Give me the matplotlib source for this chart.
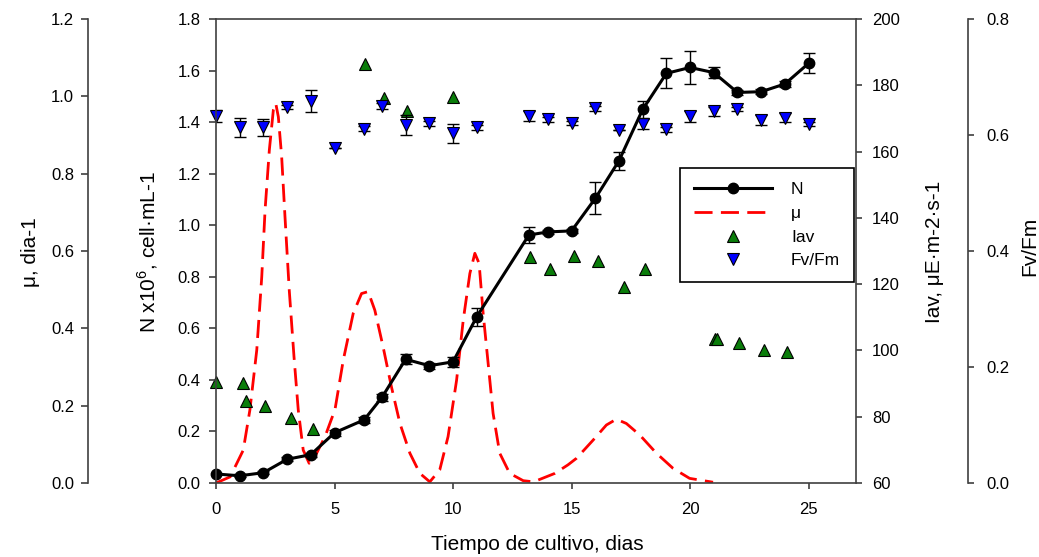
import matplotlib

matplotlib.use("Agg")

import matplotlib.pyplot as plt

plt.rcParams["font.family"] = ["Liberation Sans", "DejaVu Sans"]
plt.rcParams["mathtext.fontset"] = "custom"
plt.rcParams["mathtext.rm"] = "Liberation Sans"

# Cell density N (x10^6 cell/mL) with error bars
days_n = [0, 1, 2, 3, 4, 5, 6.25, 7, 8, 9, 10, 11, 13.2, 14, 15, 16, 17, 18, 19, 20, 21, 22, 23, 24, 25]
n_cells = [0.035, 0.028, 0.04, 0.092, 0.11, 0.195, 0.245, 0.332, 0.48, 0.455, 0.47, 0.645, 0.962,
           0.974, 0.978, 1.104, 1.25, 1.449, 1.589, 1.612, 1.592, 1.515, 1.518, 1.548, 1.628]
n_err = [0.005, 0.005, 0.005, 0.008, 0.008, 0.012, 0.012, 0.012, 0.02, 0.012, 0.02, 0.035, 0.03,
         0.008, 0.008, 0.062, 0.034, 0.034, 0.058, 0.065, 0.022, 0.008, 0.01, 0.01, 0.039]

# Growth rate mu (dia-1)
days_mu = [0, 0.6, 1.15, 1.43, 1.72, 1.93, 2.07, 2.25, 2.42, 2.52, 2.63, 2.77, 2.91, 3.09, 3.29,
           3.47, 3.68, 3.93, 4.17, 4.6, 5.02, 5.37, 5.79, 6.14, 6.42, 6.7, 7.05, 7.4, 7.76, 8.18,
           8.6, 9.02, 9.44, 9.79, 10.15, 10.43, 10.71, 10.92, 11.1, 11.27, 11.48, 11.69, 11.97,
           12.39, 12.96, 13.4, 14.3, 14.85, 15.21, 15.91, 16.47, 16.89, 17.31, 17.88, 18.58,
           19.28, 19.98, 20.97]
mu = [0.0, 0.016, 0.085, 0.189, 0.344, 0.533, 0.706, 0.861, 0.965, 0.982, 0.947, 0.844, 0.689,
      0.499, 0.327, 0.189, 0.085, 0.051, 0.068, 0.12, 0.19, 0.318, 0.439, 0.49, 0.495, 0.447,
      0.352, 0.249, 0.154, 0.077, 0.025, 0.003, 0.034, 0.12, 0.266, 0.421, 0.542, 0.594, 0.568,
      0.439, 0.31, 0.18, 0.077, 0.025, 0.006, 0.003, 0.025, 0.047, 0.064, 0.111, 0.15, 0.165,
      0.154, 0.124, 0.077, 0.038, 0.012, 0.002]

# Average irradiance Iav (uE m-2 s-1)
days_iav = [0, 1.15, 1.25, 2.05, 3.15, 4.1, 6.3, 7.1, 8.05, 10, 13.25, 14.1, 15.1, 16.1, 17.2,
            18.1, 21.05, 21.15, 22.05, 23.1, 24.1]
iav = [90.6, 90.1, 84.8, 83.2, 79.5, 76.2, 186.4, 176.2, 172.3, 176.4, 128.3, 124.5, 128.5,
       127.1, 119.0, 124.6, 103.5, 103.3, 102.3, 100.1, 99.5]

# Fv/Fm with error bars
days_fv = [0, 1, 2, 3, 4, 5, 6.25, 7, 8, 9, 10, 11, 13.2, 14, 15, 16, 17, 18, 19, 20, 21, 22, 23, 24, 25]
fvfm = [0.633, 0.613, 0.613, 0.648, 0.659, 0.577, 0.611, 0.65, 0.617, 0.62, 0.603, 0.613, 0.633,
        0.627, 0.621, 0.646, 0.609, 0.619, 0.61, 0.632, 0.641, 0.645, 0.626, 0.63, 0.619]
fvfm_err = [0.01, 0.016, 0.015, 0.004, 0.019, 0.0, 0.004, 0.005, 0.017, 0.004, 0.016, 0.004, 0.008,
            0.004, 0.004, 0.004, 0.0, 0.009, 0.004, 0.01, 0.008, 0.004, 0.008, 0.008, 0.004]

W, H = 1039, 557
SPINE = "#404040"
TICK_FS = 12
LABEL_FS = 15

fig = plt.figure(figsize=(W / 100, H / 100), dpi=100)
ax = fig.add_axes([216 / W, 74 / H, 640 / W, 464 / H])
ax_mu = ax.twinx()
ax_iav = ax.twinx()
ax_fv = ax.twinx()

for a, z in ((ax_mu, 1), (ax_iav, 2), (ax_fv, 3), (ax, 4)):
    a.set_zorder(z)
    a.patch.set_visible(False)
    for s in a.spines.values():
        s.set_visible(False)
        s.set_color(SPINE)
        s.set_linewidth(1.2)

# main axis (N)
ax.set_xlim(0, 27)
ax.set_ylim(0, 1.8)
ax.set_xticks([0, 5, 10, 15, 20, 25])
ax.set_yticks([0.0, 0.2, 0.4, 0.6, 0.8, 1.0, 1.2, 1.4, 1.6, 1.8])
ax.yaxis.set_major_formatter(matplotlib.ticker.FormatStrFormatter("%.1f"))
for side in ("left", "bottom", "top"):
    ax.spines[side].set_visible(True)
ax.tick_params(axis="x", direction="out", length=4.5, width=1.2, color=SPINE, labelsize=TICK_FS, pad=9)
ax.tick_params(axis="y", direction="out", length=5, width=1.2, color=SPINE, labelsize=TICK_FS, pad=6)

# mu axis, far left
ax_mu.set_ylim(0, 1.2)
ax_mu.set_yticks([0.0, 0.2, 0.4, 0.6, 0.8, 1.0, 1.2])
ax_mu.yaxis.set_major_formatter(matplotlib.ticker.FormatStrFormatter("%.1f"))
ax_mu.yaxis.tick_left()
ax_mu.spines["left"].set_visible(True)
ax_mu.spines["left"].set_position(("axes", -0.2))
ax_mu.tick_params(axis="y", direction="out", length=5, width=1.2, color=SPINE, labelsize=TICK_FS, pad=5)

# Iav axis, right
ax_iav.set_ylim(60, 200)
ax_iav.set_yticks(range(60, 201, 20))
ax_iav.spines["right"].set_visible(True)
ax_iav.tick_params(axis="y", direction="out", length=4.5, width=1.2, color=SPINE, labelsize=TICK_FS, pad=7)

# Fv/Fm axis, far right
ax_fv.set_ylim(0, 0.8)
ax_fv.set_yticks([0.0, 0.2, 0.4, 0.6, 0.8])
ax_fv.yaxis.set_major_formatter(matplotlib.ticker.FormatStrFormatter("%.1f"))
ax_fv.spines["right"].set_visible(True)
ax_fv.spines["right"].set_position(("axes", 1.175))
ax_fv.tick_params(axis="y", direction="out", length=4, width=1.2, color=SPINE, labelsize=TICK_FS, pad=9)

# series
line_mu, = ax_mu.plot(days_mu, mu, color="#ff0000", lw=2.0, dashes=(6.5, 3), label="\u03bc")
line_iav, = ax_iav.plot(days_iav, iav, ls="none", marker="^", ms=8.5, mfc="#0a7d0a", mec="black",
                        mew=0.8, clip_on=False, label="Iav")
ax_fv.errorbar(days_fv, fvfm, yerr=fvfm_err, fmt="none", ecolor="black", elinewidth=1,
               capsize=4.5, capthick=1)
line_fv, = ax_fv.plot(days_fv, fvfm, ls="none", marker="v", ms=8.5, mfc="#0000ff", mec="black",
                      mew=0.8, clip_on=False, label="Fv/Fm")
ax.errorbar(days_n, n_cells, yerr=n_err, fmt="none", ecolor="black", elinewidth=1,
            capsize=4.5, capthick=1)
line_n, = ax.plot(days_n, n_cells, color="black", lw=2.2, marker="o", ms=7.5, clip_on=False, label="N")

leg = ax.legend(handles=[line_n, line_mu, line_iav, line_fv], loc="upper right",
                bbox_to_anchor=(0.997, 0.679), bbox_transform=ax.transAxes, borderaxespad=0,
                fontsize=12.5, handlelength=4.5, handletextpad=1.1, labelspacing=0.5,
                borderpad=0.8, numpoints=1, fancybox=False, framealpha=1, edgecolor="black")
leg.get_frame().set_linewidth(1.2)

# axis titles
fig.text(30 / W, 1 - 252 / H, "\u03bc, dia-1", rotation=90, ha="center", va="center", fontsize=LABEL_FS)
fig.text(148 / W, 1 - 252 / H, "N x10$^{\\mathregular{6}}$, cell\u00b7mL-1", rotation=90,
         ha="center", va="center", fontsize=LABEL_FS)
fig.text(934 / W, 1 - 252 / H, "Iav, \u03bcE\u00b7m-2\u00b7s-1", rotation=90, ha="center", va="center",
         fontsize=LABEL_FS)
fig.text(1030 / W, 1 - 246 / H, "Fv/Fm", rotation=90, ha="center", va="center", fontsize=LABEL_FS)
fig.text(537 / W, 1 - 545 / H, "Tiempo de cultivo, dias", ha="center", va="center", fontsize=LABEL_FS)

fig.savefig("out.png", dpi=100)
plt.close(fig)
